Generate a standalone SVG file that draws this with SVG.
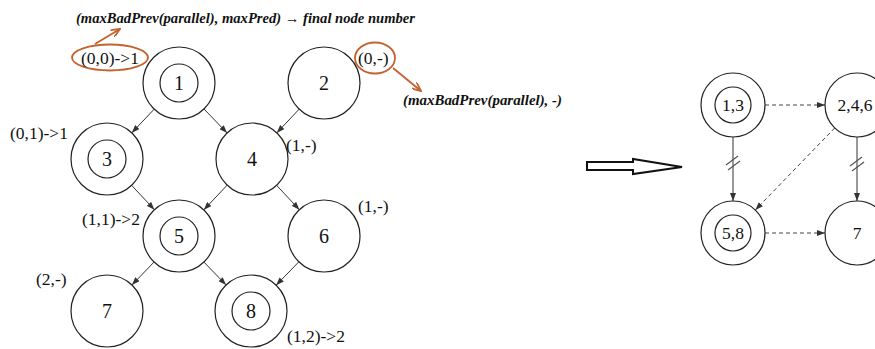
<svg xmlns="http://www.w3.org/2000/svg" width="875" height="349" viewBox="0 0 875 349">
<style>
.c{fill:none;stroke:#222;stroke-width:1.2}
.e{stroke:#333;stroke-width:1;fill:none}
.d{stroke:#444;stroke-width:1;fill:none;stroke-dasharray:4 3}
.n{font-family:"Liberation Serif",serif;font-size:20px;fill:#111;text-anchor:middle}
.rn{font-family:"Liberation Serif",serif;font-size:17.5px;fill:#111;text-anchor:middle}
.l{font-family:"Liberation Serif",serif;font-size:17.5px;fill:#111}
.t{font-family:"Liberation Serif",serif;font-size:14.5px;font-style:italic;font-weight:bold;fill:#111}
.o{fill:none;stroke:#c4622d;stroke-width:1.8}
.s{stroke:#555;stroke-width:1.2}
</style>
<defs>
<marker id="a" markerWidth="8" markerHeight="6" refX="8" refY="3" orient="auto" markerUnits="userSpaceOnUse"><path d="M0,0 L8,3 L0,6 Z" fill="#333"/></marker>
<marker id="oa" markerWidth="10" markerHeight="8" refX="9" refY="4" orient="auto" markerUnits="userSpaceOnUse"><path d="M0,0 L9,4 L0,8" fill="none" stroke="#c4622d" stroke-width="1.8"/></marker>
</defs>
<text class="t" x="76" y="23" textLength="339" lengthAdjust="spacingAndGlyphs">(maxBadPrev(parallel), maxPred) → final node number</text>
<text class="t" x="403" y="105" textLength="159" lengthAdjust="spacingAndGlyphs">(maxBadPrev(parallel), -)</text>
<g id="annot">
<ellipse class="o" cx="110" cy="57.5" rx="38" ry="13"/>
<line class="o" x1="95" y1="44" x2="120" y2="29" marker-end="url(#oa)"/>
<ellipse class="o" cx="375" cy="58" rx="20" ry="15.5"/>
<line class="o" x1="393" y1="68" x2="421" y2="91" marker-end="url(#oa)"/>
</g>
<g id="n1"><circle class="c" cx="179" cy="83" r="36"/><circle class="c" cx="179" cy="83" r="19"/><text class="n" x="179" y="90">1</text><text class="l" x="81" y="64">(0,0)-&gt;1</text></g>
<g id="n2"><circle class="c" cx="324" cy="83" r="36"/><text class="n" x="324" y="90">2</text><text class="l" x="358" y="64">(0,-)</text></g>
<g id="n3"><circle class="c" cx="107" cy="159" r="36"/><circle class="c" cx="107" cy="159" r="19"/><text class="n" x="107" y="166">3</text><text class="l" x="10" y="139">(0,1)-&gt;1</text></g>
<g id="n4"><circle class="c" cx="252" cy="159" r="36"/><text class="n" x="252" y="166">4</text><text class="l" x="286" y="151">(1,-)</text></g>
<g id="n5"><circle class="c" cx="179" cy="236" r="36"/><circle class="c" cx="179" cy="236" r="19"/><text class="n" x="179" y="243">5</text><text class="l" x="82" y="225">(1,1)-&gt;2</text></g>
<g id="n6"><circle class="c" cx="324" cy="236" r="36"/><text class="n" x="324" y="243">6</text><text class="l" x="358" y="212">(1,-)</text></g>
<g id="n7"><circle class="c" cx="107" cy="311" r="36"/><text class="n" x="107" y="318">7</text><text class="l" x="36" y="285">(2,-)</text></g>
<g id="n8"><circle class="c" cx="251" cy="311" r="36"/><circle class="c" cx="251" cy="311" r="19"/><text class="n" x="251" y="318">8</text><text class="l" x="287" y="342">(1,2)-&gt;2</text></g>
<g id="connectors">
<line class="e" x1="154.2" y1="109.1" x2="131.8" y2="132.9" marker-end="url(#a)"/>
<line class="e" x1="204" y1="109" x2="227.1" y2="133" marker-end="url(#a)"/>
<line class="e" x1="299.2" y1="109.1" x2="276.8" y2="132.9" marker-end="url(#a)"/>
<line class="e" x1="131.6" y1="185.3" x2="154.4" y2="209.7" marker-end="url(#a)"/>
<line class="e" x1="227.2" y1="185.1" x2="203.8" y2="209.9" marker-end="url(#a)"/>
<line class="e" x1="276.6" y1="185.3" x2="299.4" y2="209.7" marker-end="url(#a)"/>
<line class="e" x1="154.1" y1="262" x2="131.9" y2="285" marker-end="url(#a)"/>
<line class="e" x1="203.9" y1="262" x2="226.1" y2="285" marker-end="url(#a)"/>
<line class="e" x1="298.9" y1="261.8" x2="276.1" y2="285.2" marker-end="url(#a)"/>
<line class="d" x1="765" y1="105" x2="825" y2="105" marker-end="url(#a)"/>
<line class="e" x1="733" y1="137" x2="733" y2="201" marker-end="url(#a)"/>
<line class="e" x1="857" y1="137" x2="857" y2="201" marker-end="url(#a)"/>
<line class="d" x1="834.7" y1="128" x2="755.3" y2="210" marker-end="url(#a)"/>
<line class="d" x1="765" y1="233" x2="825" y2="233" marker-end="url(#a)"/>
<line class="s" x1="726" y1="165" x2="738" y2="156"/>
<line class="s" x1="728" y1="170" x2="740" y2="161"/>
<line class="s" x1="850" y1="166" x2="862" y2="157"/>
<line class="s" x1="852" y1="171" x2="864" y2="162"/>
</g>
<g id="bigarrow"><path d="M587,162 L633,162 L633,159 L682,167 L633,174 L633,170 L587,170 Z" fill="#fff" stroke="#111" stroke-width="2"/></g>
<g id="r13"><circle class="c" cx="733" cy="105" r="32"/><circle class="c" cx="733" cy="105" r="18"/><text class="rn" x="733" y="111">1,3</text></g>
<g id="r246"><circle class="c" cx="857" cy="105" r="32"/><text class="rn" x="855" y="111">2,4,6</text></g>
<g id="r58"><circle class="c" cx="733" cy="233" r="32"/><circle class="c" cx="733" cy="233" r="18"/><text class="rn" x="733" y="239">5,8</text></g>
<g id="r7"><circle class="c" cx="857" cy="233" r="32"/><text class="rn" x="857" y="239">7</text></g>
</svg>
